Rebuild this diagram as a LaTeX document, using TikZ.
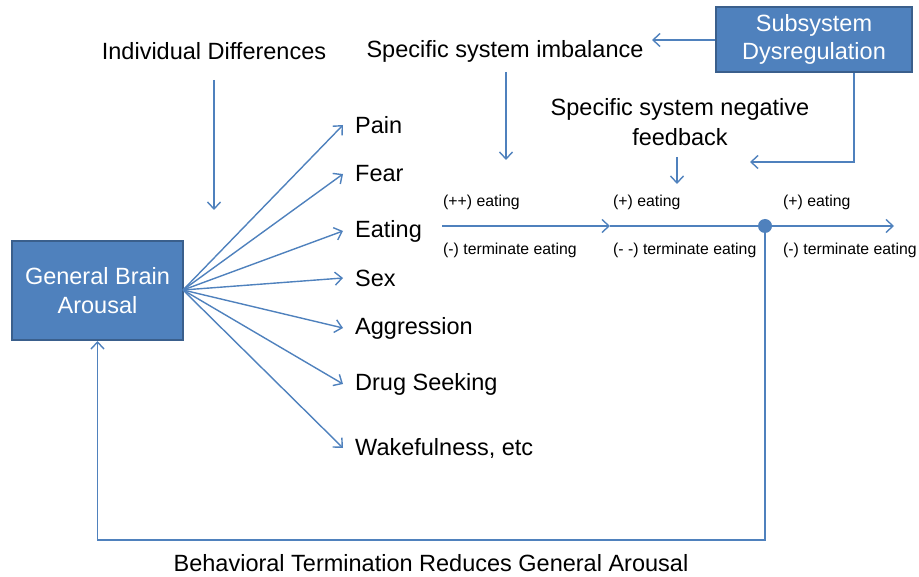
\documentclass[tikz,border=0pt]{standalone}
\usepackage{fontspec}
\setmainfont{Liberation Sans}
\usetikzlibrary{arrows.meta}
\definecolor{lineblue}{HTML}{4F81BD}
\definecolor{boxblue}{HTML}{4F81BD}
\definecolor{boxedge}{HTML}{3A5F8C}
\begin{document}
\begin{tikzpicture}[x=1pt,y=-1pt,
  big/.style={font=\fontsize{23.5}{28}\selectfont, text=black},
  small/.style={font=\fontsize{15.8}{19}\selectfont, text=black, inner sep=0pt, anchor=west},
  bluebox/.style={draw=boxedge, line width=2pt, fill=boxblue, text=white, font=\fontsize{23.5}{28}\selectfont, align=center, inner sep=0pt},
  conn/.style={draw=lineblue, line width=1.4pt, -{Straight Barb[length=7pt,width=13pt,line width=1.4pt]}},
  lab/.style={big, anchor=west, inner xsep=12pt, inner ysep=2pt}]
\useasboundingbox (0,0) rectangle (919,577);
% boxes
\node[bluebox, minimum width=171pt, minimum height=99pt] (gba) at (97.5,290.5) {\raisebox{0pt}{General Brain}\\[1.5pt]Arousal};
\node[bluebox, minimum width=196pt, minimum height=65pt] (sub) at (814,39.5) {\raisebox{-2pt}{Subsystem}\\[0pt]\raisebox{-2pt}{Dysregulation}};
% top texts
\node[big] (ind) at (214,51) {Individual Differences};
\node[big] (imb) at (505,51) {Specific system imbalance};
\node[big, align=center] (fb) at (680,122) {Specific system negative\\[1.5pt]feedback};
% behaviour labels
\node[lab] (pain) at (343,125) {Pain};
\node[lab] (fear) at (343,174) {Fear};
\node[lab] (eat) at (343,231) {Eating};
\node[lab] (sex) at (343,278) {Sex};
\node[lab] (agg) at (343,328) {Aggression};
\node[lab] (drug) at (343,384) {Drug Seeking};
\node[lab] (wake) at (343,448) {Wakefulness, etc};
% small labels
\node[small] (e1) at (443,202) {(++) eating};
\node[small] (e2) at (613,202) {(+) eating};
\node[small] (e3) at (783,202) {(+) eating};
\node[small] (t1) at (443,250) {(-) terminate eating};
\node[small] (t2) at (613,250) {(- -) terminate eating};
\node[small] (t3) at (783,250) {(-) terminate eating};
% bottom text
\node[big] (bt) at (431,563) {Behavioral Termination Reduces General Arousal};
% coordinates
\coordinate (src) at (183,290);
\coordinate (indS) at (214,80);
\coordinate (indE) at (214,210);
\coordinate (imbS) at (506,72);
\coordinate (imbE) at (506,160);
\coordinate (fbS) at (677,157);
\coordinate (fbE) at (677,184);
\coordinate (subArr) at (652,40);
\coordinate (subFb) at (750,162);
\coordinate (m0) at (442,226);
\coordinate (m1) at (610,226);
\coordinate (m2) at (894,226);
\coordinate (low) at (765,540);
\node[circle, fill=lineblue, inner sep=0pt, minimum size=14pt] (dot) at (765,226) {};
% fan arrows
\foreach \t in {pain,fear,eat,sex,agg,drug,wake}
  \draw[conn] (src) -- (\t.west);
% other arrows
\draw[conn] (indS) -- (indE);
\draw[conn] (imbS) -- (imbE);
\draw[conn] (fbS) -- (fbE);
\draw[conn] (sub.west |- subArr) -- (subArr);
\draw[conn] ([xshift=40pt]sub.south) |- (subFb);
\draw[conn] (m0) -- (m1);
\draw[conn] (m1) -- (dot.center) -- (m2);
\draw[conn] (dot.center) -- (low) -| (gba.south);
\end{tikzpicture}
\end{document}
